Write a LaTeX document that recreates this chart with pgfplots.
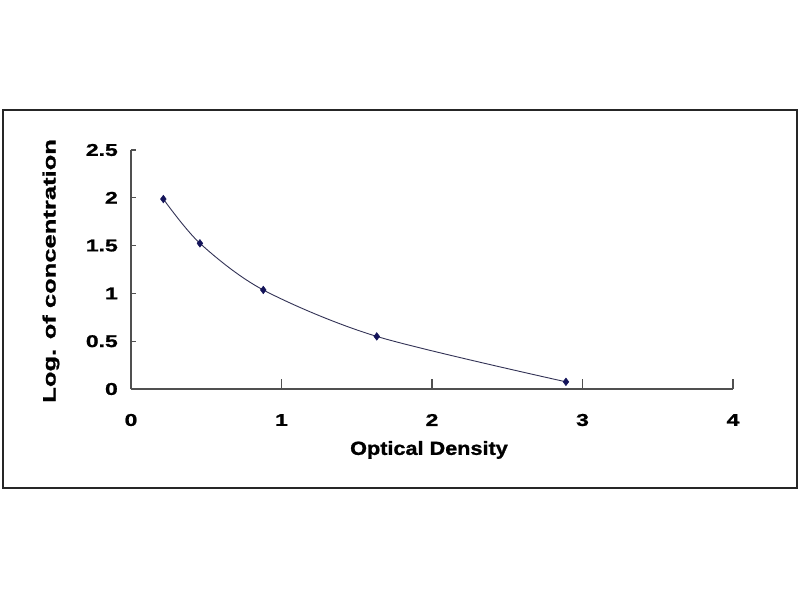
\documentclass[border=0pt]{standalone}
\usepackage{fontspec}
\setmainfont{Liberation Sans}
\newfontfamily\tickfont{Liberation Sans}[FakeStretch=1.35, BoldFeatures={FakeBold=1.2}]
\newfontfamily\xlabfont{Liberation Sans}[FakeStretch=1.14, BoldFeatures={FakeBold=1.2}]
\newfontfamily\ylabfont{Liberation Sans}[FakeStretch=1.42, BoldFeatures={FakeBold=1.2}]
\usepackage{pgfplots}
\pgfplotsset{compat=1.18}
\definecolor{axisgray}{RGB}{80,80,80}
\definecolor{curvecol}{RGB}{50,50,85}
\definecolor{marknavy}{RGB}{20,20,90}
\begin{document}
\begin{tikzpicture}[x=1pt,y=1pt]
% page and chart frame
\fill[white] (0,0) rectangle (800,600);
\draw[line width=2pt, black!85] (3,112) rectangle (797,490);
\begin{axis}[
  at={(131pt,211pt)}, anchor=south west,
  scale only axis, width=602pt, height=239pt,
  xmin=0, xmax=4, ymin=0, ymax=2.5,
  axis lines=left,
  axis line style={-, line width=2pt, axisgray},
  xtick={0,1,2,3,4},
  ytick={0,0.5,1,1.5,2,2.5},
  tick align=inside,
  tick style={line width=1.3pt, axisgray},
  xtick style={/pgfplots/major tick length=10pt},
  ytick style={/pgfplots/major tick length=5pt},
  /pgf/number format/assume math mode=true,
  ticklabel style={font=\tickfont\bfseries\fontsize{17}{17}\selectfont, inner sep=0pt},
  xticklabel style={anchor=center, yshift=-31pt},
  yticklabel style={anchor=east, xshift=-13pt},
  xlabel={Optical Density},
  ylabel={Log. of concentration},
  xlabel style={font=\xlabfont\bfseries\fontsize{19}{19}\selectfont,
    at={(axis description cs:0.495,-0.255)}, anchor=center, inner sep=0pt},
  ylabel style={font=\ylabfont\bfseries\fontsize{18}{18}\selectfont,
    at={(axis description cs:-0.133,0.494)}, anchor=center, inner sep=0pt},
  clip=false,
]
\addplot[curvecol, line width=0.9pt, smooth,
  mark=diamond*, mark size=3.8pt,
  mark options={marknavy, fill=marknavy, line width=0.5pt}]
coordinates {
  (0.215,1.987) (0.458,1.524) (0.879,1.036) (1.633,0.550) (2.89,0.075)
};
\end{axis}
\end{tikzpicture}
\end{document}
